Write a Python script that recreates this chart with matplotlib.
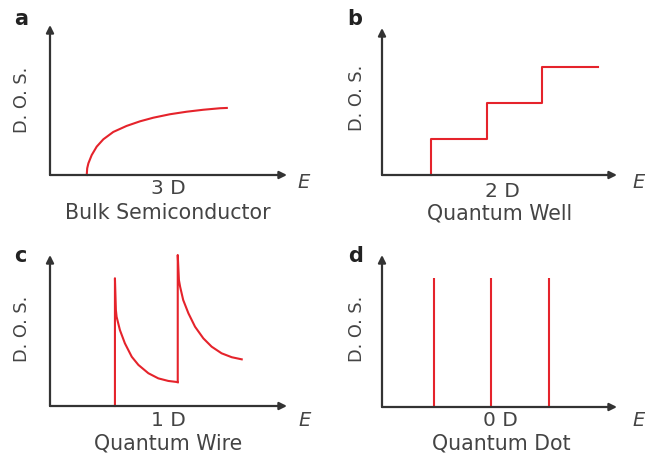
import matplotlib
matplotlib.use("Agg")
import matplotlib.pyplot as plt

# panel a - bulk (3D)
e_bulk = [1.55, 1.57, 1.62, 1.76, 1.97, 2.25, 2.67, 3.23, 3.80, 4.36, 5.06, 5.77, 6.47, 7.17, 7.46]
dos_bulk = [0.0, 0.45, 0.78, 1.33, 1.89, 2.38, 2.87, 3.27, 3.58, 3.82, 4.05, 4.22, 4.35, 4.45, 4.47]

# panel b - quantum well (2D) steps
e_well_edges = [2.10, 4.45, 6.80, 9.20]
dos_well_levels = [2.45, 4.90, 7.35]

# panel c - quantum wire (1D), two subbands
e_wire1 = [2.74, 2.74, 2.78, 2.81, 2.95, 3.16, 3.45, 3.73, 4.15, 4.57, 4.99, 5.35, 5.39]
dos_wire1 = [0.0, 8.46, 6.36, 5.91, 5.03, 4.15, 3.26, 2.72, 2.17, 1.83, 1.66, 1.59, 1.58]
e_wire2 = [5.39, 5.39, 5.44, 5.49, 5.62, 5.84, 6.12, 6.47, 6.82, 7.24, 7.67, 8.09]
dos_wire2 = [1.58, 10.0, 8.34, 7.90, 7.02, 6.14, 5.25, 4.48, 3.93, 3.49, 3.23, 3.09]

# panel d - quantum dot (0D) levels
e_dot = [2.21, 4.64, 7.11]
dos_dot_height = 8.49

letters = ["a", "b", "c", "d"]
dims = ["3 D", "2 D", "1 D", "0 D"]
names = ["Bulk Semiconductor", "Quantum Well", "Quantum Wire", "Quantum Dot"]

RED = "#e5232b"
AXC = "#333333"
TXT = "#444444"

W, H = 645, 455
fig = plt.figure(figsize=(W / 100, H / 100), dpi=100)

# axes boxes in pixels: left, right (arrow tip), bottom (origin), top (arrow tip)
boxes = [(50, 287, 175, 25), (382, 617, 175, 28), (50, 287, 406, 255), (382, 617, 407, 255)]
axes = []
for (l, r, b, t) in boxes:
    ax = fig.add_axes([l / W, 1 - b / H, (r - l) / W, (b - t) / H])
    ax.set_xlim(0, 10)
    ax.set_ylim(0, 10)
    ax.axis("off")
    arrow = dict(arrowstyle="-|>", color=AXC, lw=1.6, mutation_scale=11, shrinkA=0, shrinkB=0)
    ax.annotate("", xy=(1, 0), xytext=(0, 0), xycoords="axes fraction", arrowprops=arrow)
    ax.annotate("", xy=(0, 1), xytext=(0, 0), xycoords="axes fraction", arrowprops=arrow)
    axes.append(ax)

# curves
axes[0].plot(e_bulk, dos_bulk, color=RED, lw=1.5, clip_on=False)

xs = [e_well_edges[0]] + e_well_edges
ys = [0] + dos_well_levels + [dos_well_levels[-1]]
axes[1].step(xs, ys, where="post", color=RED, lw=1.5, clip_on=False)

axes[2].plot(e_wire1, dos_wire1, color=RED, lw=1.5, clip_on=False)
axes[2].plot(e_wire2, dos_wire2, color=RED, lw=1.5, clip_on=False)

axes[3].vlines(e_dot, 0, dos_dot_height, color=RED, lw=1.5)

# text, placed in pixel positions
def px(x, y):
    return x / W, 1 - y / H

letter_pos = [(21, 19), (355, 19), (20, 256), (356, 256)]
dos_pos = [(22, 100), (357, 98), (22, 329), (357, 329)]
dim_pos = [(168, 188), (502, 191), (168, 421), (500, 421)]
name_pos = [(168, 213), (500, 214), (168, 444), (501, 444)]
e_pos = [(297, 183), (632, 183), (298, 420), (632, 420)]

for i in range(4):
    fig.text(*px(*letter_pos[i]), letters[i], fontsize=15, fontweight="bold",
             color="#222222", ha="center", va="center")
    fig.text(*px(*dos_pos[i]), "D. O. S.", fontsize=12.8, color=TXT,
             rotation=90, ha="center", va="center")
    fig.text(*px(*dim_pos[i]), dims[i], fontsize=14.5, color=TXT, ha="center", va="center")
    fig.text(*px(*name_pos[i]), names[i], fontsize=14.8, color=TXT, ha="center", va="center")
    fig.text(*px(*e_pos[i]), "E", fontsize=14, style="italic", color=TXT,
             ha="left", va="center")

fig.savefig("out.png", dpi=100, facecolor="white")
